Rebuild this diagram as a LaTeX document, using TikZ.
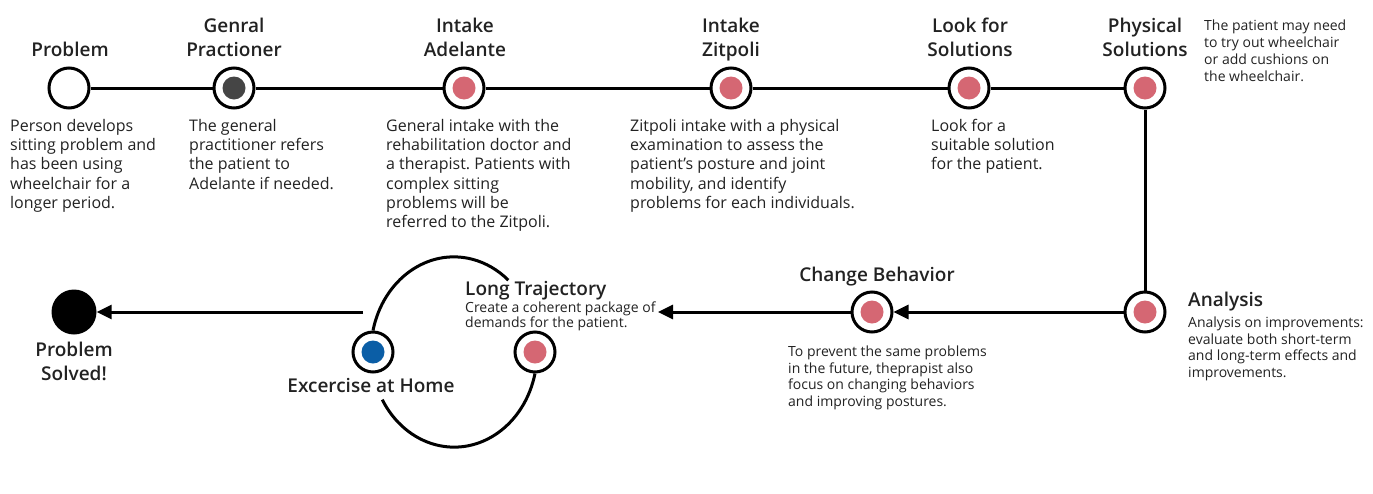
\documentclass[tikz,border=0pt]{standalone}
\usepackage{fontspec}
\setmainfont{Open Sans}
\IfFontExistsTF{Open Sans SemiBold}{\newfontfamily\titlefont{Open Sans SemiBold}}{\IfFontExistsTF{Open Sans Semibold}{\newfontfamily\titlefont{Open Sans Semibold}}{\newfontfamily\titlefont{Open Sans}[FakeBold=1.2]}}
\usetikzlibrary{arrows.meta}
\definecolor{dotpink}{HTML}{D56773}
\definecolor{dotgray}{HTML}{454545}
\definecolor{dotblue}{HTML}{0B5EA6}
\definecolor{txt}{HTML}{222222}
\frenchspacing
\begin{document}
\begin{tikzpicture}[x=1pt,y=-1pt,
 stage/.style={circle,draw=black,line width=3pt,fill=white,minimum size=40pt,inner sep=0pt},
 withdot/.style={stage,path picture={\fill[#1] (path picture bounding box.center) circle[radius=11.5pt];}},
 conn/.style={line width=3pt},
 arr/.style={conn,-{Triangle[length=15pt,width=14pt]}},
 title/.style={font=\titlefont\fontsize{19}{23.5}\selectfont,text=txt,inner sep=0pt,align=center},
 desc/.style={font=\fontsize{16}{19.3}\selectfont,text=txt,inner sep=0pt,align=left,anchor=north west},
 small/.style={font=\fontsize{14}{16.8}\selectfont,text=txt,inner sep=0pt,align=left,anchor=north west},
]
\useasboundingbox (0,0) rectangle (1373,493);
% stages
\node[stage] (n1) at (69,88) {};
\node[withdot=dotgray] (n2) at (234,88) {};
\node[withdot=dotpink] (n3) at (464,88) {};
\node[withdot=dotpink] (n4) at (731,88) {};
\node[withdot=dotpink] (n5) at (969,88) {};
\node[withdot=dotpink] (n6) at (1145,88) {};
\node[withdot=dotpink] (n7) at (1145,312) {};
\node[withdot=dotpink] (n8) at (872,312) {};
\node[withdot=dotpink] (n9) at (535,352) {};
\node[withdot=dotblue] (n10) at (373,352) {};
\node[circle,fill=black,minimum size=45pt,inner sep=0pt] (n11) at (74,312) {};
% connectors
\draw[conn] (n1)--(n2) (n2)--(n3) (n3)--(n4) (n4)--(n5) (n5)--(n6);
\draw[conn] (n6)--(n7);
\draw[arr] (n7)--(n8);
\coordinate (ltend) at (658,312);
\draw[arr] (n8)--(ltend);
\coordinate (exout) at (363,312);
\draw[arr] (exout)--(n11);
\draw[conn] (n10.north) arc[start angle=167,end angle=49,x radius=83pt,y radius=95pt];
\draw[conn] (n9.south) arc[start angle=-13,end angle=-150,x radius=83pt,y radius=95pt];
% titles
\node[title,anchor=base] (t1) at (70,56) {Problem};
\node[title,anchor=base] (t2) at (234,56) {Genral\\Practioner};
\node[title,anchor=base] (t3) at (465,56) {Intake\\Adelante};
\node[title,anchor=base] (t4) at (731,56) {Intake\\Zitpoli};
\node[title,anchor=base] (t5) at (970,56) {Look for\\Solutions};
\node[title,anchor=base] (t6) at (1145,56) {Physical\\Solutions};
\node[title,anchor=base] (t7) at (877,281) {Change Behavior};
\node[title,anchor=base west] (t8) at (1188,306) {Analysis};
\node[title,anchor=base west] (t9) at (465,295) {Long Trajectory};
\node[title,anchor=base] (t10) at (371,392) {Excercise at Home};
\node[title,anchor=base] (t11) at (74,380) {Problem\\Solved!};
% descriptions
\node[desc] (d1) at (10,118.8) {Person develops\\sitting problem and\\has been using\\wheelchair for a\\longer period.};
\node[desc] (d2) at (189,118.8) {The general\\practitioner refers\\the patient to\\Adelante if needed.};
\node[desc] (d3) at (386,118.8) {General intake with the\\rehabilitation doctor and\\a therapist. Patients with\\complex sitting\\problems will be\\referred to the Zitpoli.};
\node[desc] (d4) at (630,118.8) {Zitpoli intake with a physical\\examination to assess the\\patient’s posture and joint\\mobility, and identify\\problems for each individuals.};
\node[desc] (d5) at (931,118.8) {Look for a\\suitable solution\\for the patient.};
\node[small] (d6) at (1204,20.1) {The patient may need\\to try out wheelchair\\or add cushions on\\the wheelchair.};
\node[small] (d7) at (1188,316.4) {Analysis on improvements:\\evaluate both short-term\\and long-term effects and\\improvements.};
\node[small] (d8) at (788,345.4) {To prevent the same problems\\in the future, theprapist also\\focus on changing behaviors\\and improving postures.};
\node[small,font=\fontsize{14}{15.6}\selectfont] (d9) at (465,301.1) {Create a coherent package of\\demands for the patient.};
\end{tikzpicture}
\end{document}
